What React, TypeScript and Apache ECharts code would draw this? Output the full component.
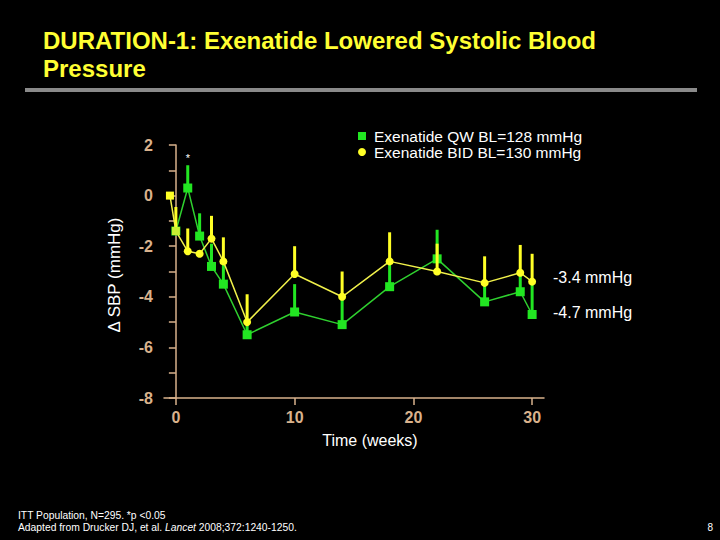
import React, { useEffect, useRef } from "react";
import * as echarts from "echarts";

const qwWeeks = [0, 1, 2, 3, 4, 6, 10, 14, 18, 22, 26, 29, 30];
const qwValues = [-1.4, 0.3, -1.6, -2.8, -3.5, -5.5, -4.6, -5.1, -3.6, -2.5, -4.2, -3.8, -4.7];
const qwUpper = [null, 1.2, -0.7, -1.9, -2.6, -5.0, -3.5, -4.0, -2.6, -1.35, -3.4, -3.0, -3.5];

const bidWeeks = [-0.5, 0, 1, 2, 3, 4, 6, 10, 14, 18, 22, 26, 29, 30];
const bidValues = [0, -1.4, -2.2, -2.3, -1.7, -2.6, -5.0, -3.1, -4.0, -2.6, -3.0, -3.45, -3.05, -3.4];
const bidUpper = [null, -0.45, -1.3, null, -0.8, -1.65, -3.9, -2.0, -3.0, -1.45, -1.9, -2.4, -1.95, -2.3];

const xTicks = [0, 10, 20, 30];
const seriesNames = ["Exenatide QW BL=128 mmHg", "Exenatide BID BL=130 mmHg"];
const endLabels = ["-3.4 mmHg", "-4.7 mmHg"];
const titleLines = ["DURATION-1: Exenatide Lowered Systolic Blood", "Pressure"];
const footLine1 = "ITT Population, N=295. *p <0.05";

const FONT = '"Liberation Sans", Arial, sans-serif';
const TAN = "#d9b28c";
const GREEN = "#22e622";
const GREEN_LINE = "#2fd02f";
const YELLOW = "#ffff26";
const YELLOW_LINE = "#f0f04a";

function errData(weeks: number[], vals: number[], upper: (number | null)[]) {
  const out: number[][] = [];
  weeks.forEach((w, i) => {
    const u = upper[i];
    if (u !== null && u !== undefined) out.push([w, vals[i], u]);
  });
  return out;
}

function makeErr(color: string, width: number) {
  return (params: any, api: any) => {
    const x = api.value(0);
    const p1 = api.coord([x, api.value(1)]);
    const p2 = api.coord([x, api.value(2)]);
    return {
      type: "line",
      shape: { x1: p1[0], y1: p1[1], x2: p2[0], y2: p2[1] },
      style: { stroke: color, lineWidth: width },
    };
  };
}

export default function App() {
  const ref = useRef<HTMLDivElement>(null);
  useEffect(() => {
    document.body.style.margin = "0";
    document.body.style.background = "#000";
    const chart = echarts.init(ref.current!, null, { renderer: "svg" });
    const option: any = {
      animation: false,
      backgroundColor: "#000",
      grid: { left: 164, right: 176, top: 145, bottom: 142 },
      legend: {
        orient: "vertical",
        left: 358,
        top: 128,
        padding: 0,
        itemGap: 0,
        itemWidth: 8,
        itemHeight: 8,
        textStyle: { color: "#fff", fontSize: 15.5, fontFamily: FONT, lineHeight: 14, padding: [0, 0, 0, 3] },
        data: [
          { name: seriesNames[0], icon: "rect", itemStyle: { color: GREEN } },
          { name: seriesNames[1], icon: "circle", itemStyle: { color: YELLOW } },
        ],
      },
      xAxis: {
        type: "value",
        min: -1,
        max: 31,
        splitLine: { show: false },
        axisLine: { onZero: false, lineStyle: { color: TAN, width: 1.5 } },
        axisTick: { show: true, length: 7, customValues: xTicks, lineStyle: { color: TAN, width: 1.5 } },
        axisLabel: {
          customValues: xTicks,
          color: TAN,
          fontSize: 16,
          fontWeight: "bold",
          fontFamily: FONT,
          margin: 11,
        },
      },
      yAxis: {
        type: "value",
        min: -8,
        max: 2,
        interval: 2,
        splitLine: { show: false },
        axisLine: { show: true, lineStyle: { color: TAN, width: 1.5 } },
        axisTick: { show: true, length: 7, lineStyle: { color: TAN, width: 1.5 } },
        minorTick: { show: true, splitNumber: 2, length: 7, lineStyle: { color: TAN, width: 1.5 } },
        axisLabel: { color: TAN, fontSize: 16, fontWeight: "bold", fontFamily: FONT, margin: 11 },
      },
      series: [
        {
          type: "custom",
          z: 1,
          renderItem: makeErr(GREEN, 3),
          encode: { x: 0, y: [1, 2] },
          data: errData(qwWeeks, qwValues, qwUpper),
        },
        {
          name: seriesNames[0],
          type: "line",
          z: 2,
          symbol: "rect",
          symbolSize: 9,
          lineStyle: { color: GREEN_LINE, width: 1.5 },
          itemStyle: { color: GREEN },
          data: qwWeeks.map((w, i) => [w, qwValues[i]]),
        },
        {
          type: "custom",
          z: 3,
          renderItem: makeErr(YELLOW, 3),
          encode: { x: 0, y: [1, 2] },
          data: errData(bidWeeks, bidValues, bidUpper),
        },
        {
          name: seriesNames[1],
          type: "line",
          z: 4,
          symbol: "circle",
          symbolSize: 8,
          lineStyle: { color: YELLOW_LINE, width: 1.5 },
          itemStyle: { color: YELLOW },
          data: bidWeeks.map((w, i) => {
            if (i === 0) return { value: [w, bidValues[i]], symbol: "rect" };
            if (i === 1) return { value: [w, bidValues[i]], symbol: "rect", itemStyle: { color: "#c8f032" } };
            return [w, bidValues[i]];
          }),
        },
      ],
      graphic: [
        {
          type: "text",
          style: { text: titleLines[0], x: 43, y: 40, fill: "#ffff33", fontSize: 24, fontWeight: "bold", fontFamily: FONT, verticalAlign: "middle" },
        },
        {
          type: "text",
          style: { text: titleLines[1], x: 43, y: 68, fill: "#ffff33", fontSize: 24, fontWeight: "bold", fontFamily: FONT, verticalAlign: "middle" },
        },
        { type: "rect", shape: { x: 25, y: 88, width: 672, height: 4 }, style: { fill: "#8a8a8a" } },
        {
          type: "text",
          x: 114,
          y: 275,
          rotation: Math.PI / 2,
          style: { text: "Δ SBP (mmHg)", x: 0, y: 0, fill: "#fff", fontSize: 17, fontFamily: FONT, align: "center", verticalAlign: "middle" },
        },
        {
          type: "text",
          style: { text: "*", x: 188, y: 158, fill: "#fff", fontSize: 11, fontFamily: FONT, align: "center", verticalAlign: "middle" },
        },
        {
          type: "text",
          style: { text: endLabels[0], x: 553, y: 277, fill: "#fff", fontSize: 16, fontFamily: FONT, verticalAlign: "middle" },
        },
        {
          type: "text",
          style: { text: endLabels[1], x: 553, y: 312, fill: "#fff", fontSize: 16, fontFamily: FONT, verticalAlign: "middle" },
        },
        {
          type: "text",
          style: { text: "Time (weeks)", x: 370, y: 440, fill: "#fff", fontSize: 16, fontFamily: FONT, align: "center", verticalAlign: "middle" },
        },
        {
          type: "text",
          style: { text: footLine1, x: 18, y: 515, fill: "#fff", fontSize: 10.3, fontFamily: FONT, verticalAlign: "middle" },
        },
        {
          type: "text",
          style: {
            text: "Adapted from Drucker DJ, et al. {i|Lancet} 2008;372:1240-1250.",
            x: 18,
            y: 527,
            fill: "#fff",
            fontSize: 10.3,
            fontFamily: FONT,
            verticalAlign: "middle",
            rich: { i: { fontStyle: "italic", fontSize: 10.3, fontFamily: FONT, fill: "#fff" } },
          },
        },
        {
          type: "text",
          style: { text: "8", x: 713, y: 527, fill: "#fff", fontSize: 10, fontFamily: FONT, align: "right", verticalAlign: "middle" },
        },
      ],
    };
    chart.setOption(option);
    return () => chart.dispose();
  }, []);
  return (
    <div
      ref={ref}
      style={{ position: "fixed", left: 0, top: 0, width: 720, height: 540, background: "#000" }}
    />
  );
}
